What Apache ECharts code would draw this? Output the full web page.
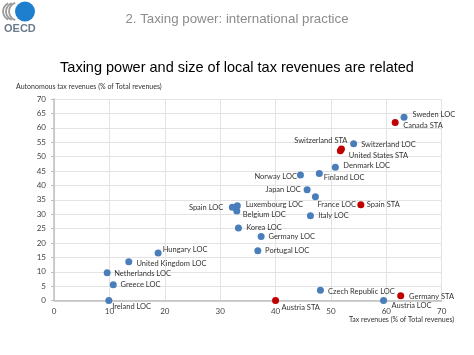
<!DOCTYPE html>
<html><head><meta charset="utf-8">
<script src="https://cdn.jsdelivr.net/npm/echarts@6/dist/echarts.min.js"></script>
<style>html,body{margin:0;padding:0;background:#fff}#c{width:474px;height:355px}</style>
</head><body><div id="c"></div>
<script>
// ---- data ----
var locNames = ['Sweden LOC','Switzerland LOC','Denmark LOC','Finland LOC','Norway LOC','Japan LOC','France LOC','Luxembourg LOC','Spain LOC','Belgium LOC','Italy LOC','Korea LOC','Germany LOC','Portugal LOC','Czech Republic LOC','Austria LOC','Hungary LOC','United Kingdom LOC','Netherlands LOC','Greece LOC','Ireland LOC'];
var locX = [63.2,54.1,50.8,47.9,44.5,45.7,47.2,33.1,32.2,33.0,46.3,33.3,37.4,36.8,48.1,59.5,18.8,13.5,9.6,10.7,9.9];
var locY = [63.7,54.5,46.3,44.1,43.6,38.5,36.1,32.9,32.4,31.1,29.5,25.2,22.3,17.3,3.6,0,16.5,13.5,9.7,5.5,0];
var staNames = ['Canada STA','Switzerland STA','United States STA','Spain STA','Germany STA','Austria STA'];
var staX = [61.6,51.9,51.7,55.4,62.6,40.0];
var staY = [61.8,52.6,52.0,33.3,1.7,0];
var xTicks = [0,10,20,30,40,50,60,70];
var yTicks = [0,5,10,15,20,25,30,35,40,45,50,55,60,65,70];

// ---- label placement (style only) ----
var labelPlace = {
 'Sweden LOC':['right',5,-2.3],'Canada STA':['right',4.5,2.6],'Switzerland LOC':['right',4,0.6],
 'United States STA':['right',5,4.6],'Switzerland STA':['left',9.5,-9],'Denmark LOC':['right',4.5,-1.6],
 'Finland LOC':['right',1,4],'Norway LOC':['left',0,1.7],'Japan LOC':['left',-2.8,0],
 'France LOC':['right',-1.5,7.6],'Spain STA':['right',2.5,0],'Luxembourg LOC':['right',4.9,-1.4],
 'Belgium LOC':['right',2.5,4],'Spain LOC':['left',-5.5,0],'Italy LOC':['right',4.2,0.3],
 'Korea LOC':['right',4.2,0],'Germany LOC':['right',3.8,0.7],'Portugal LOC':['right',3.8,0.3],
 'Czech Republic LOC':['right',4.2,1],'Germany STA':['right',4.8,0.6],'Austria LOC':['right',4.5,5],
 'Austria STA':['right',2.5,7.4],'Hungary LOC':['right',1,-3.7],'United Kingdom LOC':['right',4.2,2],
 'Netherlands LOC':['right',3.5,1],'Greece LOC':['right',3.8,0.3],'Ireland LOC':['right',-0.2,6.3]
};

function build(names, xs, ys){
  return names.map(function(n,i){
    var p = labelPlace[n] || ['right',3,0];
    return {name:n, value:[xs[i], ys[i]],
      label:{show:true, position:p[0], distance:0, offset:[p[1],p[2]], formatter:n}};
  });
}

var LF = 'Lato, "Liberation Sans", sans-serif';
var chart = echarts.init(document.getElementById('c'), null, {renderer:'canvas'});
chart.setOption({
  backgroundColor:'#ffffff',
  animation:false,
  title:[
    {text:'2. Taxing power: international practice', left:'center', top:8,
     textStyle:{color:'#8c8c8c', fontSize:13.3, fontWeight:'normal', fontFamily:'"Liberation Sans", Arial, sans-serif'}},
    {text:'Taxing power and size of local tax revenues are related', left:'center', top:55,
     textStyle:{color:'#000', fontSize:14.5, fontWeight:'normal', fontFamily:'"Liberation Sans", Arial, sans-serif'}}
  ],
  graphic:[
    {type:'circle', shape:{cx:25, cy:11.5, r:10}, style:{fill:'#1f7fcf'}},
    {type:'arc', shape:{cx:18, cy:11.5, r:9, startAngle:Math.PI*0.6, endAngle:Math.PI*1.4}, style:{stroke:'#9a9a9a', lineWidth:1.8, fill:null}},
    {type:'arc', shape:{cx:15, cy:11.5, r:9, startAngle:Math.PI*0.62, endAngle:Math.PI*1.38}, style:{stroke:'#9a9a9a', lineWidth:1.8, fill:null}},
    {type:'arc', shape:{cx:12, cy:11.5, r:9, startAngle:Math.PI*0.64, endAngle:Math.PI*1.36}, style:{stroke:'#9a9a9a', lineWidth:1.8, fill:null}},
    {type:'text', left:4, top:23, style:{text:'OECD', fill:'#6b7b8c', font:'bold 11px "Liberation Sans", Arial, sans-serif'}},
    {type:'text', left:16, top:83, style:{text:'Autonomous tax revenues (% of Total revenues)', fill:'#333', font:'7px ' + LF}},
    {type:'text', left:349, top:316, style:{text:'Tax revenues (% of Total revenues)', fill:'#333', font:'7px ' + LF}}
  ],
  grid:{left:54, right:32.3, top:99, bottom:54.4, containLabel:false},
  xAxis:{type:'value', min:0, max:70, interval:10,
    axisLine:{show:true, onZero:false, lineStyle:{color:'#bfbfbf', width:1.5}},
    axisTick:{show:false},
    axisLabel:{color:'#444', fontSize:8, fontFamily:LF, margin:7, formatter:function(v){return xTicks.indexOf(v)>=0? String(v):'';}},
    splitLine:{show:true, lineStyle:{color:'#e3e3e3', width:1}}},
  yAxis:{type:'value', min:0, max:70, interval:5,
    axisLine:{show:true, onZero:false, lineStyle:{color:'#bfbfbf', width:1.5}},
    axisTick:{show:true, length:3, lineStyle:{color:'#bfbfbf'}},
    axisLabel:{color:'#444', fontSize:8, fontFamily:LF, margin:8, formatter:function(v){return yTicks.indexOf(v)>=0? String(v):'';}},
    splitLine:{show:true, lineStyle:{color:'#e3e3e3', width:1}}},
  series:[
    {type:'scatter', name:'LOC', symbolSize:7, itemStyle:{color:'#4a7ebb', opacity:1},
     label:{color:'#333', fontSize:7.5, fontFamily:LF}, data:build(locNames, locX, locY), z:3},
    {type:'scatter', name:'STA', symbolSize:7, itemStyle:{color:'#c00000', opacity:1},
     label:{color:'#333', fontSize:7.5, fontFamily:LF}, data:build(staNames, staX, staY), z:4}
  ]
});
</script></body></html>
